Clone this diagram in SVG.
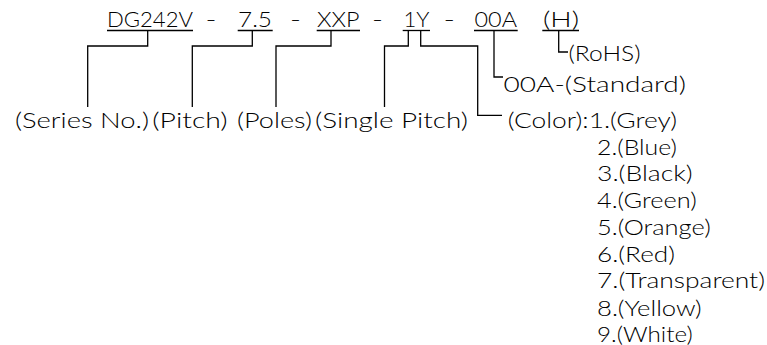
<svg xmlns="http://www.w3.org/2000/svg" width="767" height="345" viewBox="0 0 767 345">
<style>
text{font-family:"Lato","Inter","Liberation Sans",Arial,sans-serif;font-weight:300;font-size:21px;fill:#000}
.ul,.ld{stroke:#000;stroke-width:1.3;fill:none}
</style>
<rect width="767" height="345" fill="#fff"/>
<g id="code">
<g id="c-series"><text x="107" y="26.7" textLength="86" lengthAdjust="spacingAndGlyphs">DG242V</text><path class="ul" d="M107 30.5H193"/></g>
<text x="205.5" y="26.7" textLength="11" lengthAdjust="spacingAndGlyphs">-</text>
<g id="c-pitch"><text x="238" y="26.7" textLength="34" lengthAdjust="spacingAndGlyphs">7.5</text><path class="ul" d="M237.7 30.5H272.7"/></g>
<text x="290" y="26.7" textLength="11" lengthAdjust="spacingAndGlyphs">-</text>
<g id="c-poles"><text x="317" y="26.7" textLength="42.5" lengthAdjust="spacingAndGlyphs">XXP</text><path class="ul" d="M316.7 30.5H360"/></g>
<text x="372" y="26.7" textLength="11" lengthAdjust="spacingAndGlyphs">-</text>
<g id="c-1y"><text x="403.5" y="26.7" textLength="26" lengthAdjust="spacingAndGlyphs">1Y</text><path class="ul" d="M402.7 30.5H430"/></g>
<text x="443.5" y="26.7" textLength="11.5" lengthAdjust="spacingAndGlyphs">-</text>
<g id="c-00a"><text x="474.5" y="26.7" textLength="42.5" lengthAdjust="spacingAndGlyphs">00A</text><path class="ul" d="M474 30.5H517.7"/></g>
<g id="c-h"><text x="543" y="26.7" textLength="36" lengthAdjust="spacingAndGlyphs">(H)</text><path class="ul" d="M542.3 30.5H579"/></g>
</g>
<g id="connectors">
<path class="ld" d="M147.7 30.5V46H87.7V107"/>
<path class="ld" d="M252.3 30.5V46H192.3V107"/>
<path class="ld" d="M331 30.5V46H276V107"/>
<path class="ld" d="M408.3 30.5V46H384.5V107"/>
<path class="ld" d="M420.7 30.5V46H477.7V115.3H502"/>
<path class="ld" d="M494 30.5V77H503"/>
<path class="ld" d="M558.7 30.5V52H568"/>
</g>
<g id="n-series"><text x="15" y="128" textLength="134" lengthAdjust="spacingAndGlyphs">(Series No.)</text></g>
<g id="n-pitch"><text x="152.3" y="128" textLength="75.4" lengthAdjust="spacingAndGlyphs">(Pitch)</text></g>
<g id="n-poles"><text x="237" y="128" textLength="75" lengthAdjust="spacingAndGlyphs">(Poles)</text></g>
<g id="n-single"><text x="315" y="128" textLength="153" lengthAdjust="spacingAndGlyphs">(Single Pitch)</text></g>
<g id="n-rohs"><text x="568.5" y="60.5" textLength="72" lengthAdjust="spacingAndGlyphs">(RoHS)</text></g>
<g id="n-standard"><text x="503.5" y="92" textLength="182.5" lengthAdjust="spacingAndGlyphs">00A-(Standard)</text></g>
<g id="n-color">
<text x="507.7" y="128" textLength="169.3" lengthAdjust="spacingAndGlyphs">(Color):1.(Grey)</text>
<text x="597" y="154.7" textLength="80" lengthAdjust="spacingAndGlyphs">2.(Blue)</text>
<text x="597" y="181.4" textLength="95.7" lengthAdjust="spacingAndGlyphs">3.(Black)</text>
<text x="597" y="207.5" textLength="99.7" lengthAdjust="spacingAndGlyphs">4.(Green)</text>
<text x="597" y="234.5" textLength="113.7" lengthAdjust="spacingAndGlyphs">5.(Orange)</text>
<text x="597" y="261.5" textLength="78" lengthAdjust="spacingAndGlyphs">6.(Red)</text>
<text x="597" y="288.3" textLength="168" lengthAdjust="spacingAndGlyphs">7.(Transparent)</text>
<text x="597" y="315.5" textLength="104.7" lengthAdjust="spacingAndGlyphs">8.(Yellow)</text>
<text x="597" y="341.7" textLength="95.7" lengthAdjust="spacingAndGlyphs">9.(White)</text>
</g>
</svg>
